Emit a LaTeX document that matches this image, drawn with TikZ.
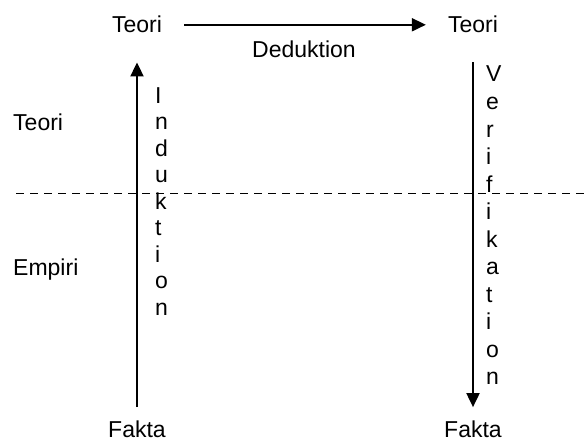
\documentclass[tikz,border=0pt]{standalone}
\usepackage{fontspec}
\setmainfont{Liberation Sans}
\usepackage{tikz}
\usetikzlibrary{arrows.meta,positioning}

\tikzset{
  word/.style={font=\fontsize{23}{27}\selectfont, inner sep=0pt},
  arr/.style={line width=1.9pt, -{Triangle[length=14pt,width=13pt]}},
}

\begin{document}
\begin{tikzpicture}[x=1pt,y=-1pt]
				\useasboundingbox (0,0) rectangle (585,441);
				\node[word,anchor=base] (A) at (137,33) {Teori};
				\node[word,anchor=base] (B) at (473,33) {Teori};
				\node[word,anchor=base] (C) at (137,437) {Fakta};
				\node[word,anchor=base] (D) at (473,437) {Fakta};
				\node[word,anchor=base] (E) at (304,58) {Deduktion};
				\node[word,anchor=base west] (L1) at (13,130) {Teori};
				\node[word,anchor=base west] (L2) at (13,275) {Empiri};

				% vertical words, one letter per line
				\foreach \c [count=\i] in {I,n,d,u,k,t,i,o,n}
					\node[word,anchor=base west] (I\i) at (155,{103+26.5*(\i-1)}) {\c};
				\foreach \c [count=\i] in {V,e,r,i,f,i,k,a,t,i,o,n}
					\node[word,anchor=base west] (V\i) at (486,{82+27.5*(\i-1)}) {\c};

				\coordinate (G1) at (16,193.5);
				\coordinate (G2) at (585,193.5);
				\draw[line width=1.6pt, dash pattern=on 7.5pt off 6.5pt] (G1) -- (G2);

				\draw[arr, shorten <=13pt, shorten >=29pt] (C.north) -- (A.south);
				\draw[arr, shorten <=29pt, shorten >=13pt] (B.south) -- (D.north);
				\draw[arr, shorten <=22pt, shorten >=22pt] (A) -- (B);
			\end{tikzpicture}
\end{document}
